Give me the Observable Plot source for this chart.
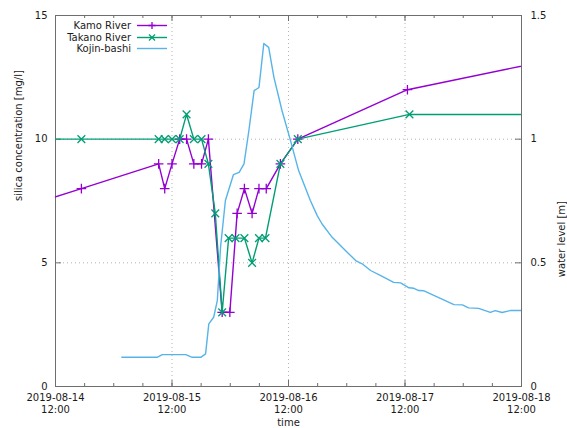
<!DOCTYPE html>
<html>
<head>
<meta charset="utf-8">
<script src="https://cdn.jsdelivr.net/npm/d3@7"></script>
<script src="https://cdn.jsdelivr.net/npm/@observablehq/plot@0.6"></script>
<style>
  html, body { margin: 0; padding: 0; background: white; }
  #wrap { position: relative; width: 567px; height: 428px; font-family: "DejaVu Sans", sans-serif; }
  #legend { position: absolute; left: 0; top: 20px; font-size: 10px; color: #1a1a1a; }
  .row { display: flex; align-items: center; height: 11.4px; }
  .row .lab { width: 131px; text-align: right; white-space: nowrap; }
  .row svg { margin-left: 6px; }
</style>
</head>
<body>
<div id="wrap">
  <div id="chart"></div>
  <div id="legend"></div>
</div>
<script>
// ---- data ----
const kamoTimes = ["2019-08-14 06:00","2019-08-14 17:20","2019-08-15 09:15","2019-08-15 10:30","2019-08-15 12:00","2019-08-15 13:35","2019-08-15 15:00","2019-08-15 16:30","2019-08-15 18:05","2019-08-15 19:30","2019-08-15 22:20","2019-08-15 23:55","2019-08-16 01:25","2019-08-16 02:55","2019-08-16 04:30","2019-08-16 05:55","2019-08-16 07:25","2019-08-16 10:20","2019-08-16 13:55","2019-08-17 12:30","2019-08-18 18:00"];
const kamoValues = [7.3, 8, 9, 8, 9, 10, 10, 9, 9, 10, 3, 3, 7, 8, 7, 8, 8, 9, 10, 12, 13.2];

const takanoTimes = ["2019-08-14 06:00","2019-08-14 17:20","2019-08-15 09:15","2019-08-15 10:30","2019-08-15 12:00","2019-08-15 13:35","2019-08-15 15:00","2019-08-15 16:30","2019-08-15 18:05","2019-08-15 19:30","2019-08-15 20:55","2019-08-15 22:20","2019-08-15 23:40","2019-08-16 01:05","2019-08-16 02:55","2019-08-16 04:30","2019-08-16 05:55","2019-08-16 07:15","2019-08-16 10:20","2019-08-16 13:55","2019-08-17 12:55","2019-08-18 18:00"];
const takanoValues = [10, 10, 10, 10, 10, 10, 11, 10, 10, 9, 7, 3, 6, 6, 6, 5, 6, 6, 9, 10, 11, 11];

const kojinTimes = ["2019-08-15 01:40","2019-08-15 08:55","2019-08-15 10:00","2019-08-15 14:50","2019-08-15 16:10","2019-08-15 17:55","2019-08-15 18:55","2019-08-15 19:35","2019-08-15 20:35","2019-08-15 21:20","2019-08-15 22:00","2019-08-15 23:00","2019-08-16 00:40","2019-08-16 01:50","2019-08-16 02:50","2019-08-16 03:50","2019-08-16 04:55","2019-08-16 05:55","2019-08-16 06:55","2019-08-16 07:55","2019-08-16 09:00","2019-08-16 10:40","2019-08-16 12:25","2019-08-16 14:05","2019-08-16 16:30","2019-08-16 17:55","2019-08-16 18:55","2019-08-16 21:00","2019-08-16 23:25","2019-08-17 01:50","2019-08-17 03:10","2019-08-17 04:55","2019-08-17 07:00","2019-08-17 09:40","2019-08-17 11:05","2019-08-17 12:50","2019-08-17 13:50","2019-08-17 14:50","2019-08-17 15:55","2019-08-17 22:05","2019-08-17 23:50","2019-08-18 01:05","2019-08-18 03:10","2019-08-18 05:35","2019-08-18 06:35","2019-08-18 08:00","2019-08-18 09:40","2019-08-18 11:50"];
const kojinLevels = [0.118, 0.118, 0.129, 0.129, 0.118, 0.118, 0.132, 0.253, 0.28, 0.347, 0.563, 0.752, 0.857, 0.866, 0.90, 1.034, 1.196, 1.209, 1.387, 1.371, 1.25, 1.115, 0.994, 0.873, 0.752, 0.691, 0.657, 0.603, 0.556, 0.509, 0.496, 0.469, 0.448, 0.421, 0.419, 0.399, 0.397, 0.388, 0.387, 0.331, 0.33, 0.318, 0.316, 0.30, 0.307, 0.299, 0.307, 0.307];

const xDomain = ["2019-08-14 12:00", "2019-08-18 12:00"];
const xMajorTicks = ["2019-08-14 12:00","2019-08-15 12:00","2019-08-16 12:00","2019-08-17 12:00","2019-08-18 12:00"];
const yLeftTicks = [0, 5, 10, 15];
const yRightTicks = [0, 0.5, 1, 1.5];
const yRightTickLabels = ["0", "0.5", "1", "1.5"];
const seriesNames = ["Kamo River", "Takano River", "Kojin-bashi"];
const seriesColors = ["#9400d3", "#009e73", "#56b4e9"];

// ---- build tables ----
const parse = d3.utcParse("%Y-%m-%d %H:%M");
const kamo = kamoTimes.map((t, i) => ({time: parse(t), value: kamoValues[i]}));
const takano = takanoTimes.map((t, i) => ({time: parse(t), value: takanoValues[i]}));
const kojin = kojinTimes.map((t, i) => ({time: parse(t), level: kojinLevels[i]}));
const domain = xDomain.map(parse);
const majors = xMajorTicks.map(parse);
const minors = d3.utcHour.every(6).range(domain[0], new Date(+domain[1] + 1));
const fmt = d3.utcFormat("%Y-%m-%d\n%H:%M");
const ratio = 10; // right axis (m) -> left axis (mg/l) scale factor

const W = 567, H = 428, ML = 55, MR = 46, MT = 15, MB = 42;
const FW = W - ML - MR, FH = H - MT - MB;
const border = "#6e6e6e";
const grid = "#b4b4b4";

const chart = Plot.plot({
  width: W, height: H,
  marginLeft: ML, marginRight: MR, marginTop: MT, marginBottom: MB,
  style: {fontFamily: "DejaVu Sans, sans-serif", fontSize: "10px", color: "#1a1a1a", background: "white"},
  x: {type: "utc", domain, axis: null},
  y: {domain: [0, 15], axis: null},
  marks: [
    Plot.gridX(majors, {x: d => d, stroke: grid, strokeOpacity: 1, strokeDasharray: "1,3"}),
    Plot.gridY([5, 10], {y: d => d, stroke: grid, strokeOpacity: 1, strokeDasharray: "1,3"}),
    // inward ticks, bottom and top
    Plot.tickX(minors, {x: d => d, insetTop: FH - 3, stroke: border}),
    Plot.tickX(minors, {x: d => d, insetBottom: FH - 3, stroke: border}),
    Plot.tickX(majors, {x: d => d, insetTop: FH - 6, stroke: border}),
    Plot.tickX(majors, {x: d => d, insetBottom: FH - 6, stroke: border}),
    // inward ticks, left and right
    Plot.tickY(yLeftTicks, {y: d => d, insetRight: FW - 6, stroke: border}),
    Plot.tickY(yRightTicks, {y: d => d * ratio, insetLeft: FW - 6, stroke: border}),
    Plot.frame({stroke: border}),
    // tick labels
    Plot.text(majors, {x: d => d, frameAnchor: "bottom", dy: 6, lineAnchor: "top", lineHeight: 1.2, text: d => fmt(d), fill: "#1a1a1a"}),
    Plot.text(yLeftTicks, {y: d => d, frameAnchor: "left", dx: -8, textAnchor: "end", text: d => String(d), fill: "#1a1a1a"}),
    Plot.text(yRightTicks, {y: d => d * ratio, frameAnchor: "right", dx: 9, textAnchor: "start", text: (d, i) => yRightTickLabels[i], fill: "#1a1a1a"}),
    // axis titles
    Plot.text(["silica concentration [mg/l]"], {frameAnchor: "left", dx: -37, rotate: -90, text: d => d, fill: "#1a1a1a"}),
    Plot.text(["water level [m]"], {frameAnchor: "right", dx: 40, rotate: -90, text: d => d, fill: "#1a1a1a"}),
    Plot.text(["time"], {frameAnchor: "bottom", dy: 39, text: d => d, fill: "#1a1a1a"}),
    // data
    Plot.line(kamo, {x: "time", y: "value", stroke: seriesColors[0], strokeWidth: 1.4, clip: true}),
    Plot.dot(kamo, {x: "time", y: "value", symbol: "plus", stroke: seriesColors[0], strokeWidth: 1.3, r: 3.2, clip: true}),
    Plot.line(takano, {x: "time", y: "value", stroke: seriesColors[1], strokeWidth: 1.4, clip: true}),
    Plot.dot(takano, {x: "time", y: "value", symbol: "times", stroke: seriesColors[1], strokeWidth: 1.3, r: 3.6, clip: true}),
    Plot.line(kojin, {x: "time", y: d => d.level * ratio, stroke: seriesColors[2], strokeWidth: 1.4, clip: true})
  ]
});
document.getElementById("chart").appendChild(chart);

// ---- legend (inside the plot, top-left) ----
const legend = document.getElementById("legend");
const markerPaths = ["M11.5,4.5H18.5M15,1V8", "M12,1.5L18,7.5M12,7.5L18,1.5", ""];
seriesNames.forEach((name, i) => {
  const row = document.createElement("div");
  row.className = "row";
  row.innerHTML = `<span class="lab">${name}</span><svg width="31" height="9" viewBox="0 0 31 9">
    <line x1="0" y1="4.5" x2="30" y2="4.5" stroke="${seriesColors[i]}" stroke-width="1.4"/>
    ${markerPaths[i] ? `<path d="${markerPaths[i]}" stroke="${seriesColors[i]}" stroke-width="1.3" fill="none"/>` : ""}
  </svg>`;
  legend.appendChild(row);
});
</script>
</body>
</html>
